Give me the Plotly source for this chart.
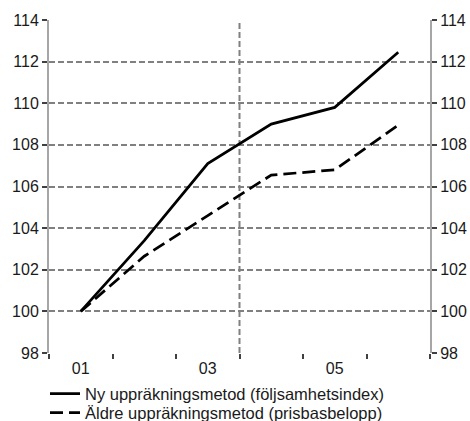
import plotly.graph_objects as go

# Index series, 2001 = 100
years = ["01", "02", "03", "04", "05", "06"]
ny_metod = [100.0, 103.4, 107.1, 109.0, 109.8, 112.45]
aldre_metod = [100.0, 102.65, 104.6, 106.55, 106.8, 108.95]

y_ticks = [98, 100, 102, 104, 106, 108, 110, 112, 114]
x_label_years = ["01", "03", "05"]

ny_name = "Ny uppräkningsmetod (följsamhetsindex)"
aldre_name = "Äldre uppräkningsmetod (prisbasbelopp)"

pos = list(range(1, len(years) + 1))
label_pos = [pos[years.index(y)] for y in x_label_years]
divider = pos[years.index("03")] + 0.5

FONT = "Liberation Sans, Arial, sans-serif"
GRID = "#808080"
AXIS = "#a6a6a6"

fig = go.Figure()
fig.add_trace(go.Scatter(
    x=pos, y=ny_metod, mode="lines", name=ny_name,
    line=dict(color="black", width=2.75), legend="legend",
))
fig.add_trace(go.Scatter(
    x=pos, y=aldre_metod, mode="lines", name=aldre_name,
    line=dict(color="black", width=2.75, dash="13px,6px"), legend="legend2",
))
# placeholder so the right-hand axis is drawn
fig.add_trace(go.Scatter(x=[None], y=[None], yaxis="y2", showlegend=False,
                         hoverinfo="skip"))

# divider between 03 and 04
fig.add_shape(type="line", xref="x", yref="paper", x0=divider, x1=divider,
              y0=0, y1=1, line=dict(color=GRID, width=2, dash="6px,3px"),
              layer="below")

yaxis_common = dict(
    range=[y_ticks[0], y_ticks[-1]], tickvals=y_ticks,
    ticks="outside", ticklen=5, tickwidth=1.5, tickcolor="#404040",
    showline=True, linecolor=AXIS, linewidth=2,
    tickfont=dict(family=FONT, size=16, color="#1a1a1a"),
    zeroline=False,
)

legend_common = dict(xanchor="left", yanchor="middle", bgcolor="rgba(0,0,0,0)",
                     font=dict(family=FONT, size=16.5, color="#1a1a1a"))

fig.update_layout(
    width=470, height=421,
    margin=dict(l=49, r=40, t=20, b=68, autoexpand=False),
    plot_bgcolor="white", paper_bgcolor="white",
    font=dict(family=FONT, size=16, color="#1a1a1a"),
    xaxis=dict(
        range=[0.5, len(years) + 0.5],
        tickvals=label_pos, ticktext=x_label_years,
        ticks="", showgrid=False, zeroline=False, showline=False,
        tickfont=dict(family=FONT, size=16, color="#1a1a1a"),
        ticklabelstandoff=4,
        minor=dict(tickmode="linear", tick0=0.5, dtick=1, ticks="outside",
                   ticklen=5, tickwidth=1.5, tickcolor="#404040",
                   showgrid=False),
    ),
    yaxis=dict(
        **yaxis_common, side="left",
        showgrid=True, gridcolor=GRID, gridwidth=2, griddash="6px,3px",
    ),
    yaxis2=dict(
        **yaxis_common, side="right", overlaying="y", showgrid=False,
    ),
    showlegend=True,
    legend=dict(x=-0.0105, y=-0.123, **legend_common),
    legend2=dict(x=-0.0105, y=-0.180, **legend_common),
)

fig.write_html("out.html")
